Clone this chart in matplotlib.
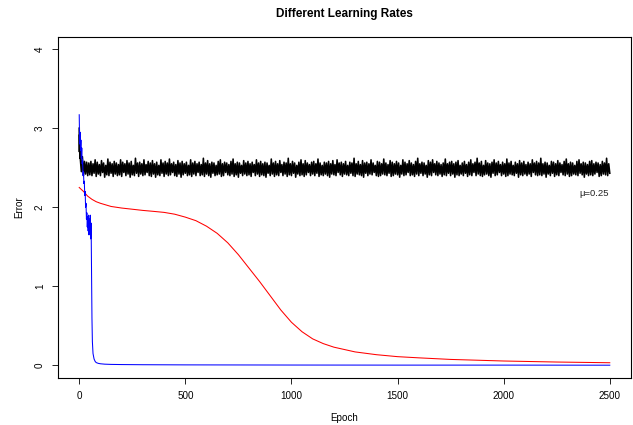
import matplotlib
matplotlib.use("Agg")
import matplotlib.pyplot as plt

plt.rcParams["font.family"] = ["Liberation Sans", "DejaVu Sans"]

# black series: high learning rate, oscillating band
black_head_epochs = [0, 1, 2, 3, 4]
black_head = [3.00, 2.70, 2.92, 2.62, 2.78]
black_band_epochs = list(range(5, 2501, 5))
black_band = [
    2.62, 2.45, 2.64, 2.40, 2.58, 2.42, 2.57, 2.40, 2.56, 2.41,
    2.58, 2.40, 2.55, 2.43, 2.60, 2.39, 2.57, 2.42, 2.54, 2.40,
    2.59, 2.44, 2.56, 2.38, 2.53, 2.41, 2.61, 2.40, 2.57, 2.43,
    2.55, 2.39, 2.58, 2.42, 2.56, 2.40, 2.54, 2.41, 2.60, 2.39,
    2.57, 2.44, 2.55, 2.40, 2.59, 2.42, 2.56, 2.38, 2.58, 2.41,
    2.53, 2.40, 2.62, 2.43, 2.56, 2.39, 2.57, 2.42, 2.55, 2.40,
    2.60, 2.41, 2.54, 2.44, 2.58, 2.40, 2.56, 2.39, 2.59, 2.42,
    2.55, 2.38, 2.57, 2.41, 2.53, 2.40, 2.60, 2.43, 2.56, 2.39,
    2.58, 2.42, 2.56, 2.40, 2.61, 2.41, 2.55, 2.44, 2.57, 2.40,
    2.54, 2.39, 2.59, 2.42, 2.56, 2.38, 2.58, 2.41, 2.55, 2.43,
    2.57, 2.40, 2.53, 2.41, 2.60, 2.39, 2.56, 2.42, 2.58, 2.40,
    2.55, 2.44, 2.57, 2.40, 2.54, 2.41, 2.62, 2.39, 2.56, 2.42,
    2.59, 2.40, 2.55, 2.38, 2.57, 2.43, 2.56, 2.40, 2.53, 2.41,
    2.58, 2.42, 2.60, 2.39, 2.55, 2.40, 2.57, 2.44, 2.56, 2.41,
    2.54, 2.40, 2.58, 2.42, 2.61, 2.39, 2.55, 2.41, 2.57, 2.38,
    2.56, 2.43, 2.53, 2.40, 2.59, 2.42, 2.56, 2.40, 2.58, 2.41,
    2.55, 2.39, 2.57, 2.44, 2.54, 2.40, 2.60, 2.42, 2.56, 2.39,
    2.58, 2.41, 2.55, 2.40, 2.57, 2.38, 2.56, 2.43, 2.53, 2.40,
    2.61, 2.42, 2.56, 2.39, 2.58, 2.41, 2.55, 2.40, 2.59, 2.44,
    2.54, 2.40, 2.57, 2.42, 2.56, 2.39, 2.62, 2.41, 2.55, 2.40,
    2.58, 2.43, 2.56, 2.38, 2.53, 2.42, 2.57, 2.40, 2.60, 2.41,
    2.55, 2.39, 2.59, 2.41, 2.56, 2.44, 2.54, 2.40, 2.57, 2.42,
    2.58, 2.40, 2.55, 2.43, 2.61, 2.39, 2.56, 2.41, 2.53, 2.40,
    2.57, 2.42, 2.56, 2.40, 2.58, 2.38, 2.55, 2.42, 2.59, 2.41,
    2.54, 2.40, 2.60, 2.44, 2.56, 2.41, 2.57, 2.39, 2.55, 2.42,
    2.58, 2.41, 2.53, 2.40, 2.57, 2.43, 2.56, 2.40, 2.62, 2.39,
    2.55, 2.42, 2.58, 2.41, 2.54, 2.40, 2.59, 2.38, 2.56, 2.43,
    2.57, 2.40, 2.55, 2.42, 2.60, 2.41, 2.56, 2.44, 2.53, 2.40,
    2.58, 2.39, 2.57, 2.40, 2.55, 2.42, 2.61, 2.41, 2.56, 2.40,
    2.54, 2.43, 2.59, 2.39, 2.57, 2.40, 2.55, 2.42, 2.58, 2.41,
    2.56, 2.38, 2.53, 2.42, 2.60, 2.40, 2.57, 2.41, 2.55, 2.44,
    2.59, 2.40, 2.56, 2.41, 2.54, 2.39, 2.58, 2.42, 2.62, 2.40,
    2.55, 2.43, 2.57, 2.40, 2.56, 2.42, 2.53, 2.38, 2.59, 2.41,
    2.57, 2.40, 2.60, 2.44, 2.55, 2.41, 2.58, 2.40, 2.56, 2.42,
    2.54, 2.39, 2.56, 2.41, 2.61, 2.40, 2.55, 2.43, 2.57, 2.40,
    2.58, 2.42, 2.55, 2.38, 2.57, 2.41, 2.59, 2.40, 2.53, 2.42,
    2.56, 2.40, 2.58, 2.43, 2.54, 2.39, 2.57, 2.41, 2.60, 2.40,
    2.55, 2.44, 2.57, 2.40, 2.62, 2.42, 2.56, 2.40, 2.58, 2.39,
    2.53, 2.41, 2.59, 2.42, 2.56, 2.40, 2.55, 2.38, 2.57, 2.43,
    2.60, 2.40, 2.56, 2.41, 2.58, 2.44, 2.54, 2.40, 2.57, 2.42,
    2.55, 2.39, 2.61, 2.40, 2.56, 2.42, 2.58, 2.41, 2.53, 2.40,
    2.57, 2.43, 2.55, 2.38, 2.59, 2.41, 2.56, 2.40, 2.58, 2.42,
    2.54, 2.40, 2.57, 2.42, 2.55, 2.39, 2.60, 2.44, 2.56, 2.41,
    2.58, 2.40, 2.56, 2.41, 2.62, 2.40, 2.55, 2.42, 2.57, 2.38,
    2.56, 2.42, 2.53, 2.40, 2.58, 2.43, 2.57, 2.39, 2.55, 2.41,
    2.59, 2.40, 2.56, 2.44, 2.54, 2.41, 2.58, 2.40, 2.61, 2.42,
    2.55, 2.39, 2.57, 2.40, 2.56, 2.42, 2.53, 2.41, 2.58, 2.40,
    2.60, 2.43, 2.55, 2.41, 2.57, 2.38, 2.56, 2.42, 2.54, 2.40,
    2.58, 2.41, 2.59, 2.40, 2.55, 2.42, 2.57, 2.44, 2.56, 2.39,
    2.54, 2.40, 2.58, 2.42, 2.56, 2.41, 2.62, 2.40, 2.55, 2.43,
]

# blue series: fast drop
blue_epochs = [0, 2, 4, 6, 8, 10, 12, 14, 16, 18, 20, 22, 24, 26, 28, 30,
               32, 34, 36, 38, 40, 42, 44, 46, 48, 50, 52, 54, 56, 58, 60,
               62, 65, 70, 75, 80, 90, 100, 120, 150, 200, 300, 500, 1000,
               1500, 2000, 2500]
blue_error = [3.17, 2.80, 2.95, 2.72, 2.85, 2.62, 2.75, 2.55, 2.60, 2.40,
              2.45, 2.30, 2.33, 2.15, 2.20, 2.00, 2.05, 1.85, 1.93, 1.75,
              1.88, 1.70, 1.90, 1.65, 1.85, 1.72, 1.90, 1.60, 1.80, 1.20,
              0.60, 0.30, 0.15, 0.08, 0.05, 0.035, 0.025, 0.020, 0.015,
              0.012, 0.010, 0.008, 0.006, 0.004, 0.003, 0.003, 0.002]

# red series: slow sigmoid-like descent
red_epochs = [0, 20, 40, 60, 80, 100, 150, 200, 250, 300, 350, 400, 450,
              500, 550, 600, 650, 700, 750, 800, 850, 900, 950, 1000, 1050,
              1100, 1150, 1200, 1300, 1400, 1500, 1600, 1750, 2000, 2250,
              2500]
red_error = [2.25, 2.20, 2.14, 2.10, 2.07, 2.05, 2.01, 1.99, 1.975, 1.96,
             1.948, 1.935, 1.912, 1.875, 1.83, 1.76, 1.67, 1.55, 1.40, 1.23,
             1.06, 0.88, 0.70, 0.545, 0.425, 0.335, 0.275, 0.23, 0.17,
             0.135, 0.11, 0.095, 0.075, 0.055, 0.042, 0.033]

x_ticks = [0, 500, 1000, 1500, 2000, 2500]
y_ticks = [0, 1, 2, 3, 4]

W, H = 633, 425
fig = plt.figure(figsize=(W / 100, H / 100), dpi=100)
ax = fig.add_axes([58 / W, 1 - 378 / H, (631 - 58) / W, (378 - 36.5) / H])

ax.plot(black_head_epochs + black_band_epochs, black_head + black_band,
        color="black", lw=1.15)
ax.plot(red_epochs, red_error, color="red", lw=0.75)
ax.plot(blue_epochs, blue_error, color="blue", lw=0.75)

ax.set_xlim(-100, 2600)
ax.set_ylim(-0.16, 4.16)
ax.set_xticks(x_ticks)
ax.set_yticks(y_ticks)
ax.tick_params(direction="out", length=4.5, width=0.6, labelsize=7.1,
               pad=5, colors="black")
for lab in ax.get_yticklabels():
    lab.set_rotation(90)
    lab.set_va("center")
for s in ax.spines.values():
    s.set_linewidth(0.8)

ax.text(2425, 2.18, "\u03bc=0.25", fontsize=6.8, ha="center", va="center",
        color="#222222")

fig.text(344.5 / W, 1 - 14 / H, "Different Learning Rates", fontsize=8.5,
         fontweight="bold", ha="center", va="center")
fig.text(344.5 / W, 1 - 418 / H, "Epoch", fontsize=7.1, ha="center",
         va="center")
fig.text(19 / W, 1 - 207 / H, "Error", fontsize=7.1, ha="center",
         va="center", rotation=90)

fig.savefig("out.png", dpi=100)
